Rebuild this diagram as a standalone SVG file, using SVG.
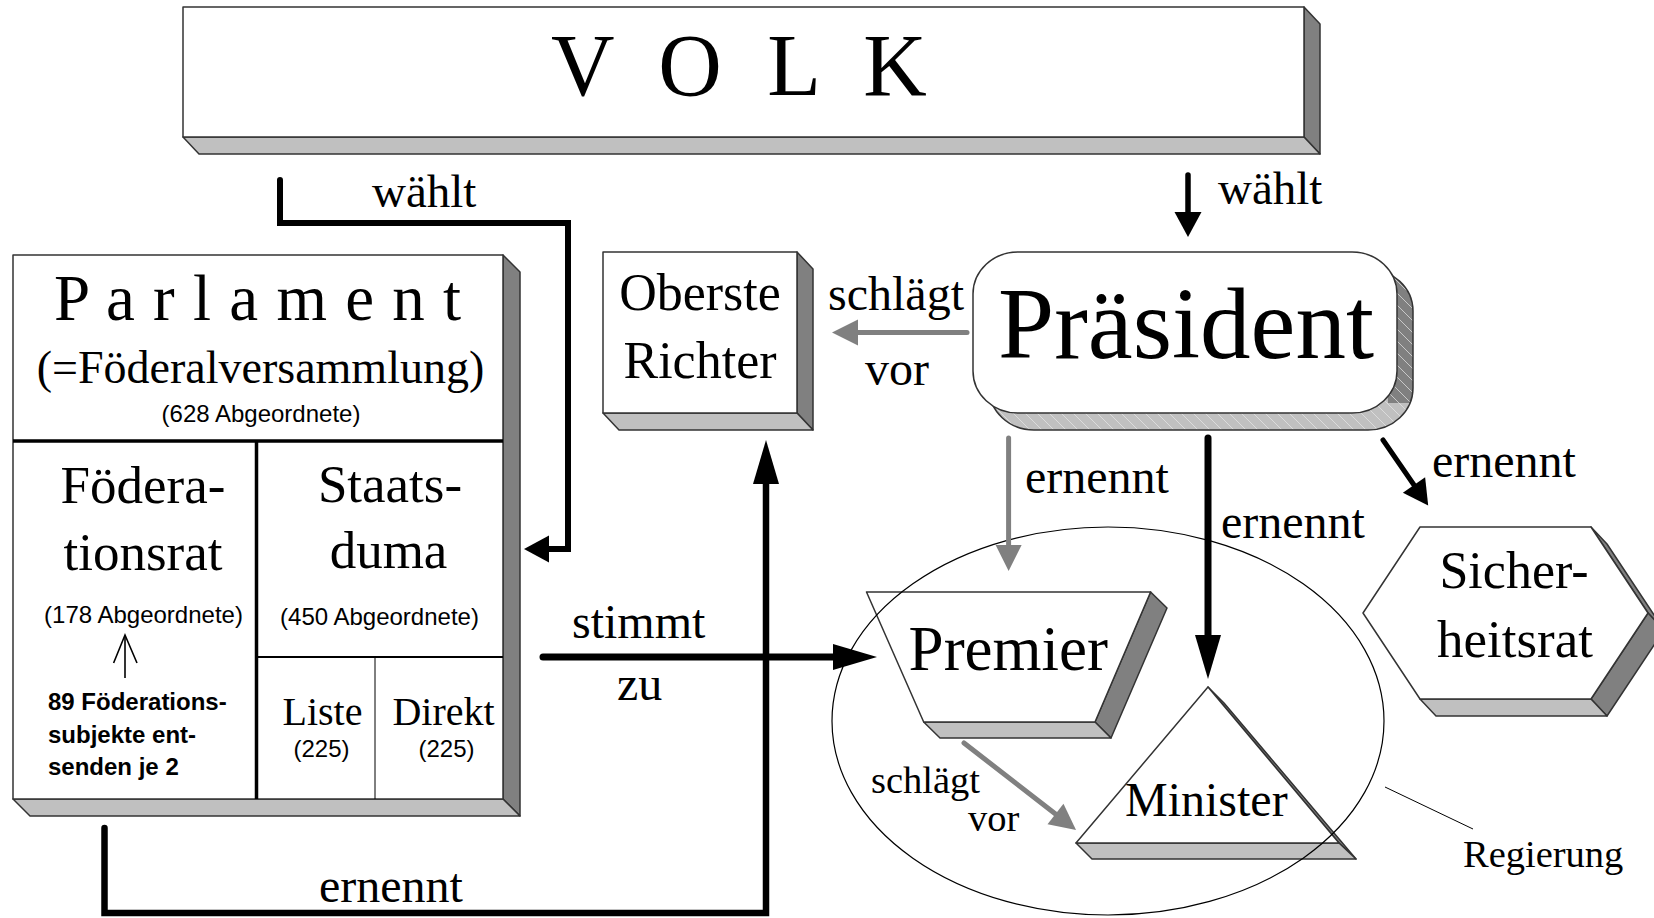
<svg xmlns="http://www.w3.org/2000/svg" width="1654" height="918" viewBox="0 0 1654 918">
<defs>
<style>
.front{fill:#fff;stroke:#333;stroke-width:1.5;stroke-linejoin:round}
.light{fill:#c0c0c0;stroke:#333;stroke-width:1.5;stroke-linejoin:round}
.dark{fill:#808080;stroke:#333;stroke-width:1.5;stroke-linejoin:round}
.serif{font-family:"Liberation Serif","Times New Roman",serif;fill:#000}
.sans{font-family:"Liberation Sans",Arial,sans-serif;fill:#000}
.mid{text-anchor:middle}
.blk{fill:none;stroke:#000;stroke-linecap:round;stroke-linejoin:miter}
.gry{fill:none;stroke:#808080;stroke-linecap:round}
.div{stroke:#000}
</style>
<marker id="headL" markerUnits="userSpaceOnUse" markerWidth="50" markerHeight="30" refX="0" refY="15" orient="auto" overflow="visible"><path d="M0,2 L44,15 L0,28 Z" fill="#000"/></marker>
<marker id="headS" markerUnits="userSpaceOnUse" markerWidth="30" markerHeight="30" refX="0" refY="15" orient="auto" overflow="visible"><path d="M0,1.5 L25,15 L0,28.5 Z" fill="#000"/></marker>
<marker id="headG" markerUnits="userSpaceOnUse" markerWidth="30" markerHeight="30" refX="0" refY="15" orient="auto" overflow="visible"><path d="M0,2 L26,15 L0,28 Z" fill="#808080"/></marker>
<pattern id="hatch" patternUnits="userSpaceOnUse" width="12" height="12"><path d="M-3,-3 L15,15" stroke="#e6e6e6" stroke-width="0.7"/></pattern>
<clipPath id="presClip"><rect x="989" y="269" width="424" height="161" rx="45" ry="42"/></clipPath>
</defs>

<g id="volk">
<polygon class="dark" points="1304,7 1320,24 1320,154 1304,137"/>
<polygon class="light" points="183,137 1304,137 1320,154 199,154"/>
<rect class="front" x="183" y="7" width="1121" height="130"/>
<text class="serif" x="551" y="95" font-size="88" letter-spacing="11.7">V O L K</text>
</g>

<g id="parlament">
<polygon class="dark" points="503,255 520,272 520,816 503,799"/>
<polygon class="light" points="13,799 503,799 520,816 30,816"/>
<rect class="front" x="13" y="255" width="490" height="544"/>
<line class="div" x1="13" y1="441" x2="503" y2="441" stroke-width="3.5"/>
<line class="div" x1="256.5" y1="441" x2="256.5" y2="799" stroke-width="3.5"/>
<line class="div" x1="256" y1="657" x2="503" y2="657" stroke-width="2"/>
<line class="div" x1="375" y1="657" x2="375" y2="799" stroke-width="1"/>
<text class="serif" x="54" y="320" font-size="65" letter-spacing="1">P a r l a m e n t</text>
<text class="serif mid" x="260.5" y="383" font-size="46">(=Föderalversammlung)</text>
<text class="sans mid" x="261" y="422" font-size="24">(628 Abgeordnete)</text>
<text class="serif mid" x="143" y="503" font-size="53">Födera-</text>
<text class="serif mid" x="143" y="570" font-size="53">tionsrat</text>
<text class="sans mid" x="143.5" y="623" font-size="24">(178 Abgeordnete)</text>
<line x1="125" y1="678" x2="125" y2="637" stroke="#000" stroke-width="1.6"/>
<polyline points="113.6,663 125,635 137,663" fill="none" stroke="#000" stroke-width="1.6"/>
<text class="sans" x="48" y="710" font-size="24" font-weight="bold">89 Föderations-</text>
<text class="sans" x="48" y="743" font-size="24" font-weight="bold">subjekte ent-</text>
<text class="sans" x="48" y="775" font-size="24" font-weight="bold">senden je 2</text>
<text class="serif mid" x="390" y="502" font-size="53">Staats-</text>
<text class="serif mid" x="388.5" y="568" font-size="53">duma</text>
<text class="sans mid" x="379.5" y="625" font-size="24">(450 Abgeordnete)</text>
<text class="serif mid" x="322.5" y="725" font-size="40">Liste</text>
<text class="sans mid" x="321.5" y="757" font-size="24">(225)</text>
<text class="serif mid" x="443.5" y="725" font-size="40">Direkt</text>
<text class="sans mid" x="446.5" y="757" font-size="24">(225)</text>
</g>

<g id="oberste-richter">
<polygon class="dark" points="797,252 813,269 813,430 797,413"/>
<polygon class="light" points="603,413 797,413 813,430 619,430"/>
<rect class="front" x="603" y="252" width="194" height="161"/>
<text class="serif mid" x="700" y="310" font-size="52">Oberste</text>
<text class="serif mid" x="700" y="378" font-size="52">Richter</text>
</g>

<g id="praesident">
<rect x="989" y="269" width="424" height="161" rx="45" ry="42" fill="#c0c0c0"/>
<polygon points="1385,255 1420,255 1420,403 1388,403" fill="#808080" clip-path="url(#presClip)"/>
<rect x="989" y="269" width="424" height="161" rx="45" ry="42" fill="url(#hatch)"/>
<rect x="989" y="269" width="424" height="161" rx="45" ry="42" fill="none" stroke="#333" stroke-width="1.5"/>
<rect class="front" x="973" y="252" width="424" height="161" rx="45" ry="42"/>
<text class="serif mid" x="1186" y="358" font-size="101">Präsident</text>
</g>

<g id="premier">
<polygon class="dark" points="1150.6,592 1167,608 1111,738 1095,722"/>
<polygon class="light" points="923.7,722 1095,722 1111,738 940,738"/>
<polygon class="front" points="866.5,592 1150.6,592 1095,722 923.7,722"/>
<text class="serif" x="908.6" y="670" font-size="63">Premier</text>
</g>

<g id="minister">
<polygon class="dark" points="1208,687 1224,703 1356,859 1339,843"/>
<polygon class="light" points="1076,843 1339,843 1356,859 1092,859"/>
<polygon class="front" points="1208,687 1339,843 1076,843"/>
<text class="serif" x="1125" y="816" font-size="48">Minister</text>
</g>

<g id="sicherheitsrat">
<polygon class="dark" points="1591,527 1607,544 1664,630 1648,613"/>
<polygon class="dark" points="1648,613 1664,630 1607,716 1591,699"/>
<polygon class="light" points="1420,699 1591,699 1607,716 1436,716"/>
<polygon class="front" points="1363,613 1420,527 1591,527 1648,613 1591,699 1420,699"/>
<text class="serif mid" x="1514" y="588" font-size="52">Sicher-</text>
<text class="serif mid" x="1515" y="657" font-size="53">heitsrat</text>
</g>

<g id="regierung">
<ellipse cx="1108" cy="721" rx="276" ry="194" fill="none" stroke="#000" stroke-width="1.2"/>
<line x1="1385" y1="787" x2="1473" y2="829" stroke="#000" stroke-width="1"/>
<text class="serif" x="1463" y="867" font-size="38.5">Regierung</text>
</g>

<g id="connectors">
<path class="blk" d="M280,180 V223 H568 V549 H549" stroke-width="6" marker-end="url(#headS)"/>
<text class="serif" x="372" y="207" font-size="47">wählt</text>
<path class="blk" d="M1188,175 V212" stroke-width="5.5" marker-end="url(#headS)"/>
<text class="serif" x="1218" y="204" font-size="47">wählt</text>
<path class="blk" d="M543,657 H833" stroke-width="7" marker-end="url(#headL)"/>
<text class="serif" x="572" y="638" font-size="48">stimmt</text>
<text class="serif" x="617" y="700" font-size="48">zu</text>
<path class="blk" d="M104.5,828 V913 H766 V484" stroke-width="6.5" marker-end="url(#headL)"/>
<text class="serif" x="319" y="902" font-size="48">ernennt</text>
<path class="gry" d="M967,332.5 H858" stroke-width="5" marker-end="url(#headG)"/>
<text class="serif" x="828" y="310" font-size="48">schlägt</text>
<text class="serif mid" x="897" y="385" font-size="48">vor</text>
<path class="gry" d="M1008.6,438 V545" stroke-width="5" marker-end="url(#headG)"/>
<text class="serif" x="1025" y="493" font-size="48">ernennt</text>
<path class="blk" d="M1208,438 V635" stroke-width="7" marker-end="url(#headL)"/>
<text class="serif" x="1221" y="538" font-size="48">ernennt</text>
<path class="blk" d="M1383,440 L1414,485" stroke-width="5" marker-end="url(#headS)"/>
<text class="serif" x="1432" y="477" font-size="48">ernennt</text>
<path class="gry" d="M964,743 L1055.5,814" stroke-width="5" marker-end="url(#headG)"/>
<text class="serif" x="871" y="793" font-size="38.5">schlägt</text>
<text class="serif" x="968" y="831" font-size="38.5">vor</text>
</g>
</svg>
